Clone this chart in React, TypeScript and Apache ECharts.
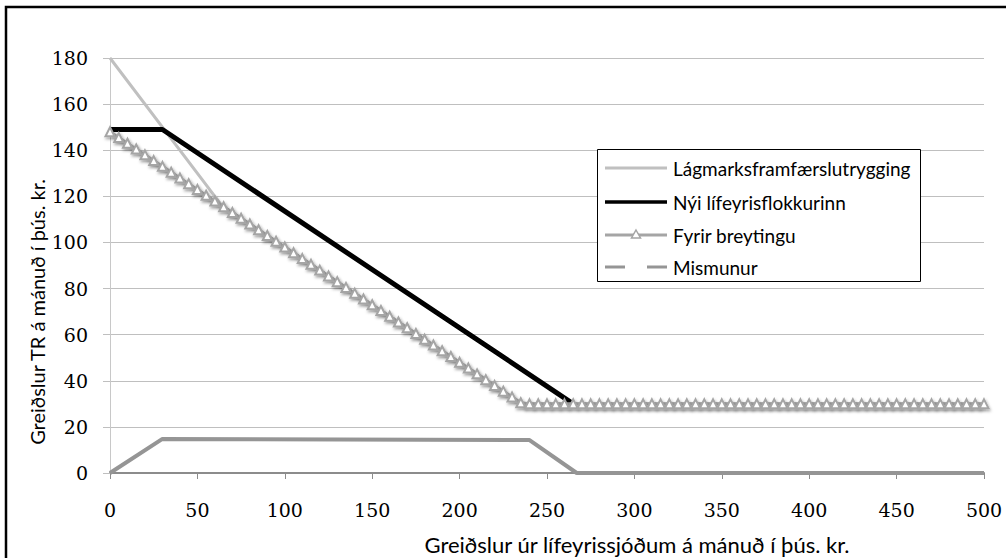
import React, { useEffect, useRef } from "react";
import * as echarts from "echarts";

const xTicks = [0, 50, 100, 150, 200, 250, 300, 350, 400, 450, 500];
const yTicks = [0, 20, 40, 60, 80, 100, 120, 140, 160, 180];

// x positions (þús. kr.) of the "Fyrir breytingu" markers
const fyrirX = [
  0, 5, 10, 15, 20, 25, 30, 35, 40, 45, 50, 55, 60, 65, 70, 75, 80, 85, 90, 95,
  100, 105, 110, 115, 120, 125, 130, 135, 140, 145, 150, 155, 160, 165, 170, 175,
  180, 185, 190, 195, 200, 205, 210, 215, 220, 225, 230, 235, 240, 245, 250, 255,
  260, 265, 270, 275, 280, 285, 290, 295, 300, 305, 310, 315, 320, 325, 330, 335,
  340, 345, 350, 355, 360, 365, 370, 375, 380, 385, 390, 395, 400, 405, 410, 415,
  420, 425, 430, 435, 440, 445, 450, 455, 460, 465, 470, 475, 480, 485, 490, 495, 500,
];
const fyrirY = [
  148, 145.5, 143, 140.5, 138, 135.5, 133, 130.5, 128, 125.5, 123, 120.5, 118, 115.5,
  113, 110.5, 108, 105.5, 103, 100.5, 98, 95.5, 93, 90.5, 88, 85.5, 83, 80.5, 78, 75.5,
  73, 70.5, 68, 65.5, 63, 60.5, 58, 55.5, 53, 50.5, 48, 45.5, 43, 40.5, 38, 35.5, 33,
  30.5, 30, 30, 30, 30, 30, 30, 30, 30, 30, 30, 30, 30, 30, 30, 30, 30, 30, 30, 30, 30,
  30, 30, 30, 30, 30, 30, 30, 30, 30, 30, 30, 30, 30, 30, 30, 30, 30, 30, 30, 30, 30,
  30, 30, 30, 30, 30, 30, 30, 30, 30, 30, 30, 30,
];

const lagX = [0, 64, 236, 500];
const lagY = [180, 116, 30, 30];

const nyiX = [0, 30, 265];
const nyiY = [149, 149, 30];

const misX = [0, 30, 240, 267, 500];
const misY = [0, 14.8, 14.3, 0, 0];

const seriesNames = [
  "Lágmarksframfærslutrygging",
  "Nýi lífeyrisflokkurinn",
  "Fyrir breytingu",
  "Mismunur",
];

const xTitle = "Greiðslur úr lífeyrissjóðum á mánuð í þús. kr.";
const yTitle = "Greiðslur TR á mánuð í þús. kr.";

const colors = ["#c0c0c0", "#000000", "#a5a5a5", "#959595"];

const pairs = (xs: number[], ys: number[]) => xs.map((x, i) => [x, ys[i]]);

export default function App() {
  const ref = useRef<HTMLDivElement>(null);
  useEffect(() => {
    if (!ref.current) return;
    const chart = echarts.init(ref.current, null, { renderer: "svg" });
    const sans = "Lato";
    const serif = "DejaVu Serif";

    // manual legend
    const lx0 = 605;
    const lx1 = 667;
    const rowY = [168, 202, 235, 267];
    const legendEls: any[] = [
      {
        type: "rect",
        shape: { x: 597.5, y: 149.5, width: 323, height: 132 },
        style: { fill: "#fff", stroke: "#000", lineWidth: 1 },
        z: 10,
      },
      {
        type: "line",
        shape: { x1: lx0, y1: rowY[0], x2: lx1, y2: rowY[0] },
        style: { stroke: colors[0], lineWidth: 3 },
        z: 11,
      },
      {
        type: "line",
        shape: { x1: lx0, y1: rowY[1], x2: lx1, y2: rowY[1] },
        style: { stroke: colors[1], lineWidth: 3.5 },
        z: 11,
      },
      {
        type: "line",
        shape: { x1: lx0, y1: rowY[2], x2: lx1, y2: rowY[2] },
        style: { stroke: colors[2], lineWidth: 3 },
        z: 11,
      },
      {
        type: "polygon",
        shape: {
          points: [
            [636, rowY[2] - 5],
            [640.5, rowY[2] + 3],
            [631.5, rowY[2] + 3],
          ],
        },
        style: { fill: "#fff", stroke: colors[2], lineWidth: 1.5 },
        z: 12,
      },
      {
        type: "line",
        shape: { x1: lx0, y1: rowY[3], x2: lx1, y2: rowY[3] },
        style: { stroke: colors[3], lineWidth: 3, lineDash: [20, 22] },
        z: 11,
      },
    ];
    seriesNames.forEach((n, i) => {
      legendEls.push({
        type: "text",
        x: 673,
        y: rowY[i],
        style: {
          text: n,
          fontFamily: sans,
          fontSize: 19,
          fill: "#000",
          align: "left",
          verticalAlign: "middle",
        },
        z: 12,
      });
    });

    chart.setOption({
      animation: false,
      backgroundColor: "#ffffff",
      grid: { left: 110, right: 22, top: 58, bottom: 85 },
      xAxis: {
        type: "value",
        min: 0,
        max: 500,
        interval: 50,
        axisLine: { show: true, lineStyle: { color: "#8c8c8c", width: 2 } },
        axisTick: { show: true, length: 6, lineStyle: { color: "#8c8c8c", width: 1 } },
        splitLine: { show: false },
        axisLabel: {
          margin: 27,
          fontFamily: serif,
          fontSize: 19,
          color: "#000",
          formatter: (v: number) => (xTicks.includes(v) ? String(v) : ""),
        },
      },
      yAxis: {
        type: "value",
        min: 0,
        max: 180,
        interval: 20,
        axisLine: { show: true, lineStyle: { color: "#c8c8c8", width: 1 } },
        axisTick: { show: true, length: 7, lineStyle: { color: "#bfbfbf" } },
        splitLine: { show: true, lineStyle: { color: "#bfbfbf", width: 1 } },
        axisLabel: {
          margin: 22,
          fontFamily: serif,
          fontSize: 19,
          color: "#000",
          formatter: (v: number) => (yTicks.includes(v) ? String(v) : ""),
        },
      },
      graphic: [
        {
          type: "rect",
          shape: { x: 6, y: 7, width: 1010, height: 560 },
          style: { fill: "none", stroke: "#000", lineWidth: 2.5 },
          silent: true,
        },
        {
          type: "text",
          x: 637,
          y: 544,
          style: {
            text: xTitle,
            fontFamily: sans,
            fontSize: 22,
            fill: "#000",
            align: "center",
            verticalAlign: "middle",
          },
        },
        {
          type: "text",
          x: 37,
          y: 312,
          rotation: Math.PI / 2,
          style: {
            text: yTitle,
            fontFamily: sans,
            fontSize: 20,
            fill: "#000",
            align: "center",
            verticalAlign: "middle",
          },
        },
        ...legendEls,
      ],
      series: [
        {
          name: seriesNames[0],
          type: "line",
          data: pairs(lagX, lagY),
          symbol: "none",
          lineStyle: { color: colors[0], width: 3 },
          itemStyle: { color: colors[0] },
        },
        {
          name: seriesNames[1],
          type: "line",
          data: pairs(nyiX, nyiY),
          symbol: "none",
          lineStyle: { color: colors[1], width: 5 },
          itemStyle: { color: colors[1] },
        },
        {
          name: seriesNames[2],
          type: "line",
          data: pairs(fyrirX, fyrirY),
          symbol: "triangle",
          symbolSize: 9,
          lineStyle: {
            color: colors[2],
            width: 3,
            shadowColor: "rgba(0,0,0,0.45)",
            shadowBlur: 4,
            shadowOffsetX: 2,
            shadowOffsetY: 3,
          },
          itemStyle: {
            color: "#ffffff",
            borderColor: colors[2],
            borderWidth: 2,
            shadowColor: "rgba(0,0,0,0.35)",
            shadowBlur: 3,
            shadowOffsetX: 1,
            shadowOffsetY: 2,
          },
        },
        {
          name: seriesNames[3],
          type: "line",
          data: pairs(misX, misY),
          symbol: "none",
          lineStyle: { color: colors[3], width: 4 },
          itemStyle: { color: colors[3] },
        },
      ],
    });
    return () => chart.dispose();
  }, []);
  return (
    <div
      ref={ref}
      style={{ position: "fixed", left: 0, top: 0, width: 1006, height: 558 }}
    />
  );
}
